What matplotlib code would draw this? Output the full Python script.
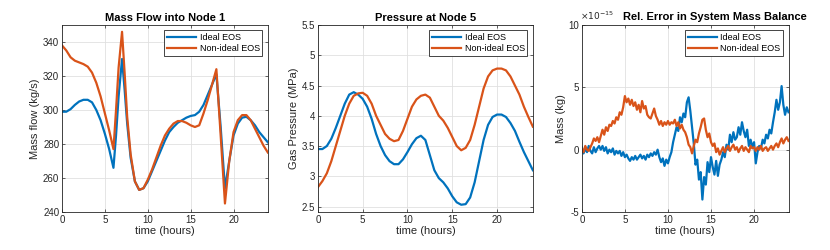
import numpy as np
import matplotlib.pyplot as plt
from matplotlib.ticker import FuncFormatter

# MATLAB default colours
blue = '#0072BD'
orange = '#D95319'

# Mass flow into node 1 (kg/s), sampled every half hour plus spike points
t1 = [0, 0.5, 1, 1.5, 2, 2.5, 3, 3.5, 4, 4.5, 5, 5.5, 6, 6.3, 6.6, 7, 7.3, 7.6, 8, 8.5, 9, 9.5,
      10, 10.5, 11, 11.5, 12, 12.5, 13, 13.5, 14, 14.5, 15, 15.5, 16, 16.5, 17, 17.5, 18, 18.5, 19,
      19.5, 20, 20.5, 21, 21.5, 22, 22.5, 23, 23.5, 24]
flow_ideal = [299, 299, 300.5, 303, 305, 306, 306, 304.5, 300, 294, 286, 277, 266, 285, 308, 330, 312,
              292, 272, 258, 253, 254, 258, 264, 270, 276, 282, 287, 290, 292.5, 294, 295.5, 296.5, 297,
              299, 303, 309, 315, 321, 290, 254, 270, 285, 292, 295.5, 296, 294, 291, 287, 284, 281]
flow_real = [338, 335, 331, 329, 328, 327, 325.5, 322, 316, 308, 298, 288, 277, 300, 325, 346, 322,
             296, 274, 258, 253, 254, 259, 265, 272, 279, 285, 289, 292, 293.5, 293.5, 292.5, 291, 290,
             291, 298, 306, 315, 324, 285, 245, 270, 287, 294, 297, 297, 294, 289, 284, 279, 275]

# Pressure at node 5 (MPa)
t2 = np.arange(0, 24.01, 0.5)
pres_ideal = [3.45, 3.45, 3.5, 3.62, 3.8, 4.0, 4.2, 4.35, 4.39, 4.35, 4.28, 4.15, 3.95, 3.7, 3.5,
              3.35, 3.25, 3.2, 3.2, 3.28, 3.4, 3.53, 3.63, 3.67, 3.6, 3.35, 3.1, 2.97, 2.9, 2.8, 2.67,
              2.57, 2.53, 2.54, 2.65, 2.9, 3.25, 3.6, 3.85, 3.98, 4.02, 4.02, 3.98, 3.88, 3.75, 3.57,
              3.4, 3.25, 3.1]
pres_real = [2.82, 2.92, 3.05, 3.25, 3.5, 3.75, 4.0, 4.2, 4.33, 4.37, 4.38, 4.33, 4.2, 4.0, 3.85,
             3.7, 3.62, 3.58, 3.6, 3.75, 3.95, 4.15, 4.27, 4.33, 4.35, 4.3, 4.15, 4.0, 3.92, 3.8, 3.65,
             3.5, 3.43, 3.47, 3.6, 3.85, 4.15, 4.45, 4.65, 4.75, 4.78, 4.78, 4.75, 4.65, 4.5, 4.35,
             4.15, 3.98, 3.82]

# Relative error in system mass balance (x 1e-15), every 0.2 h
t3 = np.linspace(0, 24, 121)
err_ideal = [0.2, -0.3, 0.1, -0.2, 0.3, -0.1, -0.3, 0.2, -0.2, 0.1, 0.3,
             0.0, 0.3, -0.1, 0.2, -0.3, 0.0, -0.2, 0.1, -0.4, -0.1,
             -0.3, -0.1, -0.5, -0.2, -0.6, -0.4, -0.7, -0.9, -0.6, -0.8,
             -0.5, -0.8, -0.6, -0.4, -0.7, -0.5, -0.8, -0.4, -0.6, -0.3,
             -0.5, -0.2, -0.4, 0.0, -0.6, -1.0, -0.7, -1.3, -0.8, -1.1,
             -0.6, -0.2, 0.6, 1.2, 1.8, 1.5, 2.6, 2.2, 2.9, 2.6,
             3.8, 4.2, 3.1, 1.8, 0.5, -1.2, -0.8, -2.4, -1.8, -4.0,
             -2.2, -2.8, -1.0, -1.8, -0.6, -1.4, -2.0, -0.9, -2.1, -1.2,
             -0.8, -0.2, -0.6, 0.4, 0.0, 1.2, 0.6, 1.4, 0.8, 1.0,
             1.8, 1.2, 2.2, 1.5, 1.0, 1.6, 0.3, 0.8, 0.2, 0.6,
             -1.1, -0.2, 0.3, 0.1, 0.8, 0.5, 1.2, 0.9, 1.6, 1.3,
             2.2, 3.0, 4.0, 3.2, 3.8, 5.1, 3.6, 2.8, 3.4, 3.0]
err_real = [0.1, -0.2, 0.3, 0.0, -0.1, 0.2, 0.5, 0.9, 0.7, 1.0, 0.6,
            1.1, 1.6, 1.2, 1.8, 1.5, 2.0, 1.9, 2.3, 2.1, 2.6,
            2.4, 3.0, 2.8, 3.4, 4.3, 3.8, 4.1, 3.6, 4.0, 3.5,
            3.8, 3.2, 3.6, 3.0, 3.9, 3.3, 3.5, 2.8, 2.6, 2.5,
            2.9, 3.3, 2.7, 2.4, 2.0, 2.3, 1.9, 2.2, 2.0, 2.3,
            2.0, 2.2, 2.1, 2.4, 1.9, 2.2, 1.7, 2.0, 1.6, 1.4,
            1.0, 0.4, 0.2, -0.3, 0.3, 0.8, 0.6, 1.3, 1.8, 2.4,
            2.5, 1.6, 1.0, 1.3, 0.6, 0.3, 0.5, -0.2, 0.1, -0.4,
            -0.1, 0.2, -0.2, 0.1, 0.3, -0.1, 0.2, 0.4, 0.0, 0.2,
            -0.2, 0.1, 0.3, -0.1, 0.2, 0.0, -0.2, 0.3, 0.1, 0.2,
            -0.1, 0.2, 0.0, 0.3, -0.1, 0.1, 0.2, -0.1, 0.1, 0.3,
            0.0, 0.3, 0.5, 0.2, 0.6, 0.9, 0.5, 0.8, 1.0, 0.7]

labels = ['Ideal EOS', 'Non-ideal EOS']

plt.rcParams['font.family'] = ['Liberation Sans', 'DejaVu Sans']
plt.rcParams['font.size'] = 7

fig = plt.figure(figsize=(8.3, 2.5), dpi=100)
ax1 = fig.add_axes([0.0747, 0.152, 0.248, 0.748])
ax2 = fig.add_axes([0.383, 0.152, 0.259, 0.748])
ax3 = fig.add_axes([0.701, 0.152, 0.249, 0.748])


def style(ax, ylabel):
    ax.set_xlabel('time (hours)', fontsize=8, color='0.15', labelpad=1)
    ax.set_ylabel(ylabel, fontsize=8, color='0.15', labelpad=2)
    ax.set_xlim(0, 24)
    ax.set_xticks([0, 5, 10, 15, 20])
    ax.yaxis.set_major_formatter(FuncFormatter(lambda v, p: '%g' % v))
    ax.grid(True, color='0.88', linewidth=0.6)
    ax.set_axisbelow(True)
    ax.tick_params(direction='in', length=2.5, width=0.5, colors='0.15', labelsize=7, pad=2,
                   top=True, right=True)
    for s in ax.spines.values():
        s.set_linewidth(0.6)
        s.set_color('0.15')
    leg = ax.legend(labels, loc='upper right', fontsize=6.5, fancybox=False, framealpha=1,
                    edgecolor='0.15', borderpad=0.3, handlelength=3.2, handletextpad=0.4,
                    labelspacing=0.25, borderaxespad=0.6)
    leg.get_frame().set_linewidth(0.6)


ax1.plot(t1, flow_ideal, color=blue, lw=1.6)
ax1.plot(t1, flow_real, color=orange, lw=1.6)
ax1.set_ylim(240, 350)
ax1.set_yticks(range(240, 341, 20))
ax1.set_title('Mass Flow into Node 1', fontsize=8, fontweight='bold', pad=3)
style(ax1, 'Mass flow (kg/s)')

ax2.plot(t2, pres_ideal, color=blue, lw=1.6)
ax2.plot(t2, pres_real, color=orange, lw=1.6)
ax2.set_ylim(2.41, 5.5)
ax2.set_yticks(np.arange(2.5, 5.51, 0.5))
ax2.set_title('Pressure at Node 5', fontsize=8, fontweight='bold', pad=3)
style(ax2, 'Gas Pressure (MPa)')

ax3.plot(t3, err_ideal, color=blue, lw=1.6)
ax3.plot(t3, err_real, color=orange, lw=1.6)
ax3.set_ylim(-5, 10)
ax3.set_yticks([-5, 0, 5, 10])
ax3.text(0.645, 1.015, 'Rel. Error in System Mass Balance', transform=ax3.transAxes,
         ha='center', va='bottom', fontsize=8, fontweight='bold')
ax3.text(-0.01, 1.015, r'$\times10^{-15}$', transform=ax3.transAxes, ha='left', va='bottom',
         fontsize=6.5, color='0.15')
style(ax3, 'Mass (kg)')

fig.savefig('out.png', dpi=100)
